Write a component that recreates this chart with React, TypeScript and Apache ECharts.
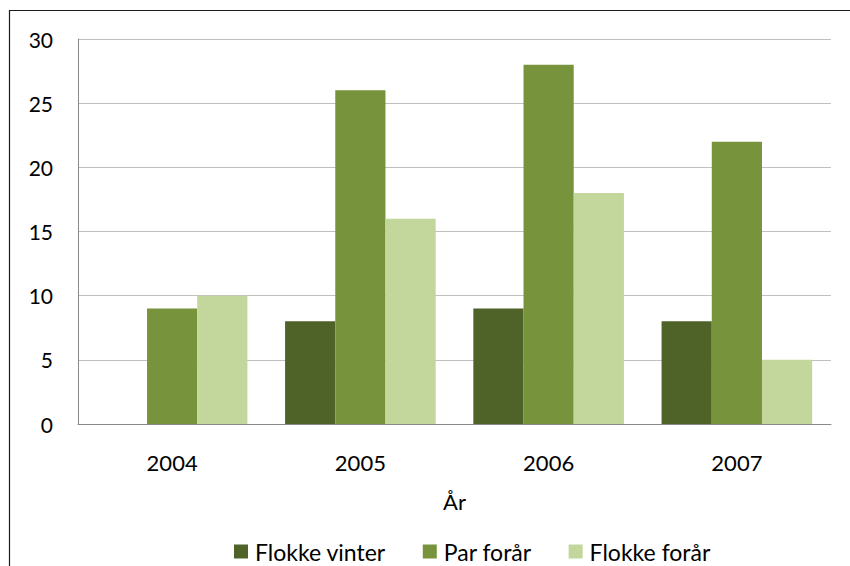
import React, { useEffect, useRef } from "react";
import * as echarts from "echarts";

const categories = ["2004", "2005", "2006", "2007"];
const flokkeVinter = [0, 8, 9, 8];
const parForaar = [9, 26, 28, 22];
const flokkeForaar = [10, 16, 18, 5];
const seriesNames = ["Flokke vinter", "Par forår", "Flokke forår"];
const colors = ["#4F6228", "#77933C", "#C3D69B"];
const axisName = "År";

const FONT = "Lato, 'Open Sans', sans-serif";

export default function App() {
  const ref = useRef<HTMLDivElement>(null);
  useEffect(() => {
    if (!ref.current) return;
    const chart = echarts.init(ref.current, null, { renderer: "svg" });
    const data = [flokkeVinter, parForaar, flokkeForaar];
    chart.setOption({
      animation: false,
      textStyle: { fontFamily: FONT },
      graphic: [
        {
          type: "rect",
          shape: { x: 9.5, y: 10.5, width: 1000, height: 1000 },
          style: { fill: "none", stroke: "#1a1a1a", lineWidth: 1.2 },
          silent: true,
        },
      ],
      grid: { left: 78, top: 39, right: 19, bottom: 142, containLabel: false },
      legend: {
        left: 234,
        top: 540,
        padding: 0,
        itemWidth: 14,
        itemHeight: 14,
        itemGap: 37,
        icon: "rect",
        textStyle: { fontFamily: FONT, fontSize: 23, color: "#000", padding: [0, 0, 0, 2] },
        data: seriesNames,
      },
      xAxis: {
        type: "category",
        data: categories,
        name: axisName,
        nameLocation: "middle",
        nameGap: 66,
        nameTextStyle: { fontFamily: FONT, fontSize: 22, color: "#000" },
        axisLine: { lineStyle: { color: "#8a8a8a", width: 1 } },
        axisTick: { show: false },
        axisLabel: { fontFamily: FONT, fontSize: 22, color: "#000", margin: 27 },
      },
      yAxis: {
        type: "value",
        min: 0,
        max: 30,
        interval: 5,
        axisLine: { show: true, lineStyle: { color: "#8a8a8a", width: 1 } },
        axisTick: { show: false },
        splitLine: { lineStyle: { color: "#c0c0c0", width: 1 } },
        axisLabel: { fontFamily: FONT, fontSize: 21, color: "#000", margin: 25 },
      },
      series: seriesNames.map((name, i) => ({
        name,
        type: "bar",
        data: data[i],
        barGap: "0%",
        barCategoryGap: "20%",
        itemStyle: { color: colors[i] },
      })),
    });
    return () => chart.dispose();
  }, []);
  return (
    <div
      ref={ref}
      style={{ position: "fixed", left: 0, top: 0, width: 850, height: 566, background: "#fff" }}
    />
  );
}
